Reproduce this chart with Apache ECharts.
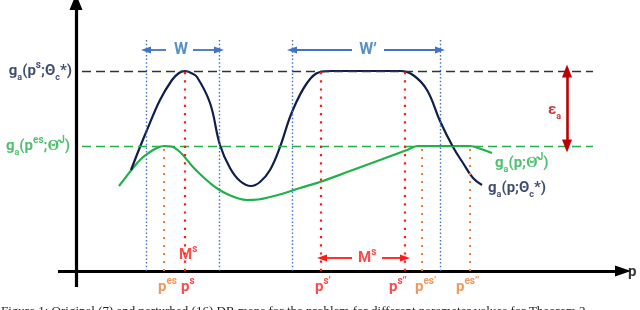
<!DOCTYPE html>
<html>
<head>
<meta charset="utf-8">
<script src="https://cdn.jsdelivr.net/npm/echarts@6/dist/echarts.min.js"></script>
<style>
  html, body { margin: 0; padding: 0; background: #ffffff; }
  #chart { width: 640px; height: 310px; }
</style>
</head>
<body>
<div id="chart"></div>
<script>
// ---- Data (x = position p, y = value g_a), origin at the axes' crossing ----
const navyCurve = [
  [55,101],[64,124],[71,141],[84,171],[96,191],[103,198],[109,200],[115,198],[121,194],[134,168],
  [144,126],[154,103],[164,90],[175,85],[184,89],[194,101],[204,124],[216,159],
  [231,188],[244,199],[257,200],[290,200],[324,200],[337,196],[351,181],[364,150],
  [377,124],[387,108],[397,93],[406,86]
];
const greenCurve = [
  [43,85],[50,94],[57,103],[66,113],[74,119],[81,123],[88,125],[95,124.5],[104,119],
  [117,104],[125,96],[134,88],[142,82],[151,77],[161,73],[171,71],[182,71.5],[194,74],
  [209,78],[224,83],[244,89],[274,100],[304,111],[331,121],[342,125],[394,125],
  [405,122],[416,118]
];
const levelOptimal = 200;      // g_a(p^s; Theta_c*)
const levelPerturbed = 125;    // g_a(p^es; Theta^J)
const windowEdges = [70, 143, 216, 364];       // blue dotted (W, W')
const optimalPoints = [109, 245, 329];         // p^s, p^s', p^s''
const perturbedPoints = [88, 346, 394];        // p^es, p^es', p^es''
const tickLabels = ['p^es', 'p^s', "p^s'", "p^s''", "p^es'", "p^es''"];

// ---- Styles ----
const NAVY = '#0f1e4b', GREEN = '#22b04b', RED = '#ff1a1a', ORANGE = '#ee7d31',
      BLUE = '#4472c4', BLUETXT = '#2e75b6', DARKRED = '#c00000';
const FONT = 'Roboto';

function richFor(color, size) {
  return {
    b:   { color: color, fontSize: size, fontWeight: 'bold', fontFamily: FONT, lineHeight: 22 },
    sup: { color: color, fontSize: Math.round(size * 0.66), fontWeight: 'bold', fontFamily: FONT, verticalAlign: 'top', lineHeight: 12 },
    sub: { color: color, fontSize: Math.round(size * 0.62), fontWeight: 'bold', fontFamily: FONT, verticalAlign: 'bottom', lineHeight: 11 }
  };
}

function seg(a, b, color, type, width, endSym, endSize, startSym, startSize) {
  return [
    { coord: a, symbol: startSym || 'none', symbolSize: startSize || 0 },
    { coord: b, symbol: endSym || 'none', symbolSize: endSize || 0,
      lineStyle: { color: color, type: type, width: width } }
  ];
}

const lines = [];
// axes
lines.push(seg([0, -16], [0, 269], '#000', 'solid', 3.2, 'triangle', [13, 16]));
lines.push(seg([-18, 0], [547, 0], '#000', 'solid', 3.2, 'triangle', [11, 16]));
// horizontal dashed levels
lines.push(seg([6, levelOptimal], [517, levelOptimal], '#333', [9, 5], 1.4));
lines.push(seg([6, levelPerturbed], [517, levelPerturbed], GREEN, [9, 5], 1.4));
// vertical dotted lines
windowEdges.forEach(x => lines.push(seg([x, 0], [x, 233], BLUE, [1.5, 2.2], 1.4)));
optimalPoints.forEach(x => lines.push(seg([x, 0], [x, levelOptimal], RED, [2.2, 6], 2.2)));
perturbedPoints.forEach(x => lines.push(seg([x, 0], [x, levelPerturbed], ORANGE, [2, 6], 2)));
// W arrows
lines.push(seg([90, 221], [70, 221], BLUE, 'solid', 1.8, 'triangle', [7, 10]));
lines.push(seg([117, 221], [143, 221], BLUE, 'solid', 1.8, 'triangle', [7, 10]));
// W' arrows
lines.push(seg([276, 221], [216, 221], BLUE, 'solid', 1.8, 'triangle', [7, 10]));
lines.push(seg([308, 221], [364, 221], BLUE, 'solid', 1.8, 'triangle', [7, 10]));
// M^s arrows
lines.push(seg([276, 13], [246, 13], RED, 'solid', 1.8, 'triangle', [7, 10]));
lines.push(seg([306, 13], [329, 13], RED, 'solid', 1.8, 'triangle', [7, 10]));
// epsilon double arrow
lines.push(seg([491, 162], [491, levelOptimal], DARKRED, 'solid', 2.6, 'triangle', [10, 13]));
lines.push(seg([491, 162], [491, levelPerturbed], DARKRED, 'solid', 2.6, 'triangle', [10, 13]));

// ---- Text annotations ----
const HAT = '\u0398\u0302';
const annotations = [
  { at: [-4, levelOptimal], align: 'right', color: NAVY, size: 15,
    text: '{b|g}{sub|a}{b|(p}{sup|s}{b|;Θ}{sub|c}{b|*)}' },
  { at: [-6, levelPerturbed], align: 'right', color: GREEN, size: 15,
    text: '{b|g}{sub|a}{b|(p}{sup|es}{b|;' + HAT + '}{sup|J}{b|)}' },
  { at: [419, 108], align: 'left', color: GREEN, size: 15,
    text: '{b|g}{sub|a}{b|(p;' + HAT + '}{sup|J}{b|)}' },
  { at: [412, 83], align: 'left', color: NAVY, size: 15,
    text: '{b|g}{sub|a}{b|(p;Θ}{sub|c}{b|*)}' },
  { at: [105, 221], align: 'center', color: BLUETXT, size: 16, text: '{b|W}' },
  { at: [292, 221], align: 'center', color: BLUETXT, size: 16, text: '{b|W\u2019}' },
  { at: [103, 16], align: 'left', color: RED, size: 15, text: '{b|M}{sup|s}' },
  { at: [282, 13], align: 'left', color: RED, size: 15, text: '{b|M}{sup|s}' },
  { at: [472, 161], align: 'left', color: DARKRED, size: 15, text: '{b|ε}{sub|a}' },
  { at: [552, -1], align: 'left', color: '#000', size: 15, text: '{b|p}' }
];
const tickX = [82, 105, 239, 313, 339, 380];
const tickColors = [ORANGE, RED, RED, RED, ORANGE, ORANGE];
tickLabels.forEach((t, i) => {
  const parts = t.split('^');
  annotations.push({ at: [tickX[i], -16], align: 'left', color: tickColors[i], size: 15,
    text: '{b|' + parts[0] + '}{sup|' + parts[1].replace(/'/g, "\u2019") + '}' });
});

const labelData = annotations.map(a => ({
  value: a.at,
  label: {
    show: true, position: [0, 0], align: a.align, verticalAlign: 'middle',
    formatter: a.text, rich: richFor(a.color, a.size), color: a.color,
    fontWeight: 'bold', fontFamily: FONT
  }
}));

const chart = echarts.init(document.getElementById('chart'), null, { renderer: 'canvas' });
chart.setOption({
  animation: false,
  backgroundColor: '#ffffff',
  grid: { left: 0, right: 0, top: 0, bottom: 0 },
  xAxis: { type: 'value', min: -76, max: 564, show: false },
  yAxis: { type: 'value', min: -39, max: 271, show: false },
  series: [
    {
      type: 'line', data: [], silent: true,
      markLine: { silent: true, animation: false, label: { show: false }, emphasis: { disabled: true },
                  symbol: 'none', data: lines }
    },
    {
      type: 'line', data: greenCurve, smooth: 0.4, showSymbol: false, silent: true,
      lineStyle: { color: GREEN, width: 2.2 }
    },
    {
      type: 'line', data: navyCurve, smooth: 0.4, showSymbol: false, silent: true,
      lineStyle: { color: NAVY, width: 2.2 }
    },
    {
      type: 'scatter', data: labelData, symbolSize: 0, silent: true, z: 5
    }
  ],
  graphic: [{
    type: 'text', left: 1, top: 305, silent: true,
    style: {
      text: 'Figure 1: Original (7) and perturbed (16) DR maps for the problem for different parameter values for Theorem 2',
      font: '13px "Liberation Serif", serif', fill: '#222'
    }
  }]
});
</script>
</body>
</html>
